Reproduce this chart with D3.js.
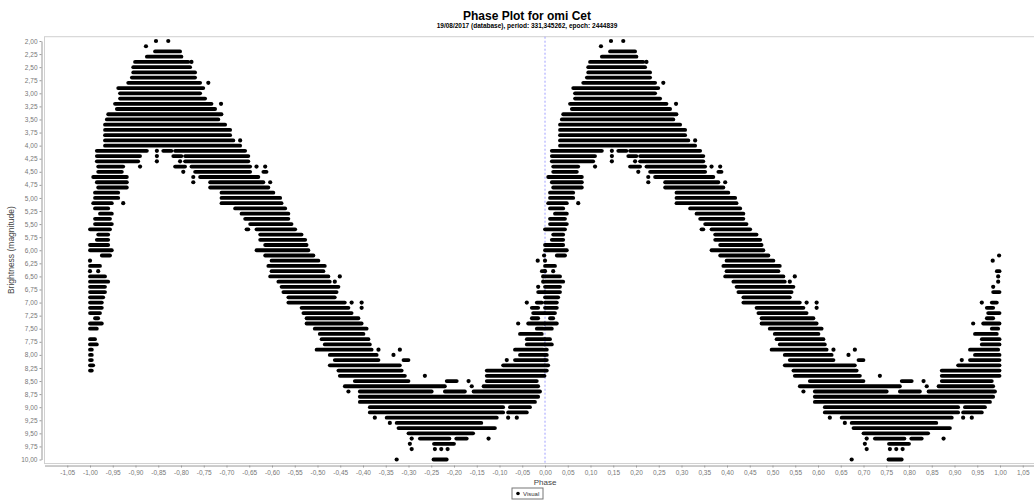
<!DOCTYPE html>
<html><head><meta charset="utf-8">
<script src="https://cdn.jsdelivr.net/npm/d3@7"></script>
<style>body{margin:0;background:#fff}svg{display:block}</style>
</head><body><svg id="c" width="1034" height="503"></svg>
<script>
// ---- data ----
const chartTitle = "Phase Plot for omi Cet";
const chartSubtitle = "19/08/2017 (database), period: 331,345262, epoch: 2444839";
const xTickValues = [-1.05,-1.00,-0.95,-0.90,-0.85,-0.80,-0.75,-0.70,-0.65,-0.60,-0.55,-0.50,-0.45,-0.40,-0.35,-0.30,-0.25,-0.20,-0.15,-0.10,-0.05,0.00,0.05,0.10,0.15,0.20,0.25,0.30,0.35,0.40,0.45,0.50,0.55,0.60,0.65,0.70,0.75,0.80,0.85,0.90,0.95,1.00,1.05];
const yTickValues = [2.00,2.25,2.50,2.75,3.00,3.25,3.50,3.75,4.00,4.25,4.50,4.75,5.00,5.25,5.50,5.75,6.00,6.25,6.50,6.75,7.00,7.25,7.50,7.75,8.00,8.25,8.50,8.75,9.00,9.25,9.50,9.75,10.00];
// one cycle (phase 0..1); each magnitude row lists the phase runs where observations sit
const rowMags = [2.0,2.1,2.2,2.3,2.4,2.5,2.6,2.7,2.8,2.9,3.0,3.1,3.2,3.3,3.4,3.5,3.6,3.7,3.8,3.9,4.0,4.1,4.2,4.3,4.4,4.5,4.6,4.7,4.8,4.9,5.0,5.1,5.2,5.3,5.4,5.5,5.6,5.7,5.8,5.9,6.0,6.1,6.2,6.3,6.4,6.5,6.6,6.7,6.8,6.9,7.0,7.1,7.2,7.3,7.4,7.5,7.6,7.7,7.8,7.9,8.0,8.1,8.2,8.3,8.4,8.5,8.6,8.7,8.8,8.9,9.0,9.1,9.2,9.3,9.4,9.5,9.6,9.7,9.8,10.0];
const rowRuns = [
 [[.145],[.172]],
 [[.123]],
 [[.143,.198]],
 [[.125,.201]],
 [[.099,.216],[.223]],
 [[.095,.220]],
 [[.095,.231]],
 [[.092,.231]],
 [[.084,.242],[.260]],
 [[.062,.249]],
 [[.066,.242]],
 [[.066,.253]],
 [[.055,.267],[.288]],
 [[.059,.275]],
 [[.040,.289]],
 [[.037,.282]],
 [[.033,.297]],
 [[.033,.308]],
 [[.033,.308]],
 [[.033,.315],[.330]],
 [[.033,.330]],
 [[.015,.125],[.147],[.161,.179],[.187,.341]],
 [[.015,.110],[.147],[.183,.201],[.209,.348]],
 [[.015,.106],[.147],[.198],[.209,.348]],
 [[.018,.073],[.110],[.187,.209],[.223,.352],[.366],[.385]],
 [[.018,.070],[.205],[.231,.352],[.381,.388]],
 [[.007,.081],[.227],[.242,.370]],
 [[.015,.081],[.227],[.264,.381],[.396]],
 [[.018,.081],[.264,.392]],
 [[.011,.062],[.289,.403]],
 [[.011,.062],[.289,.418]],
 [[.007,.048],[.073],[.289,.421]],
 [[.011,.040],[.319,.429]],
 [[.022,.048],[.333,.436]],
 [[.011,.044],[.341,.436]],
 [[.011,.048],[.352,.443]],
 [[.000,.044],[.344,.348],[.366,.451]],
 [[.018,.040],[.374,.465]],
 [[.015,.040],[.374,.473]],
 [[.000,.040],[.385,.476]],
 [[.000,.048],[.366,.480]],
 [[.026,.044],[.385,.491],[.998]],
 [[.000],[.399,.502],[.984]],
 [[.000,.022],[.392,.516]],
 [[.000],[.018],[.399,.513],[.993,.999]],
 [[.000,.033],[.396,.524],[.549],[.996]],
 [[.000,.040],[.414,.527],[.538],[.996]],
 [[.000,.033],[.421,.546],[.985]],
 [[.000,.033],[.425,.542],[.985,.999]],
 [[.000,.029],[.436,.538]],
 [[.000,.026],[.436,.560],[.575],[.597],[.960],[.982,.993]],
 [[.000,.026],[.465,.568],[.597],[.971,.985]],
 [[.000,.022],[.469,.575],[.974,.999]],
 [[.011,.018],[.476,.590],[.971,.985]],
 [[.000,.026],[.476,.597],[.941],[.963,.999]],
 [[.000,.015],[.494,.608],[.982,.996]],
 [[.505,.601],[.945,.993]],
 [[.000,.011],[.509,.612],[.960,.999]],
 [[.000,.015],[.516,.615],[.960,.999]],
 [[.000,.004],[.498,.619],[.634],[.681],[.934,.996]],
 [[.000,.004],[.527,.630],[.667],[.945,.999]],
 [[.000,.004],[.538,.634],[.689,.700],[.916],[.934,.999]],
 [[.000,.007],[.527,.681],[.908,.999]],
 [[.000,.004],[.546,.685],[.872,.999]],
 [[.549,.692],[.736],[.872,.999]],
 [[.582,.700],[.784,.806],[.832],[.872,.982]],
 [[.560,.780],[.839],[.865,.985]],
 [[.568],[.593,.751],[.780,.824],[.843,.989]],
 [[.593,.985]],
 [[.593,.978]],
 [[.615,.908],[.923,.967]],
 [[.615,.908],[.919,.960]],
 [[.626],[.652,.894],[.919],[.938]],
 [[.659],[.674,.860]],
 [[.678,.890]],
 [[.700,.842]],
 [[.707],[.725,.790],[.805,.828],[.876]],
 [[.703],[.756,.800]],
 [[.707],[.758],[.772],[.786]],
 [[.674],[.755,.784]]
];
const legendLabels = ["Visual"];

// ---- layout ----
const svg = d3.select("#c");
const x = d3.scaleLinear().domain([-1.1, 1.1]).range([44.5, 1045.5]);
const y = d3.scaleLinear().domain([2, 10]).range([41, 459.5]);
const plotTop = y(1.918), plotBottom = y(10.077), plotLeft = x(-1.1), plotRight = x(1.1);
const fmt = v => v.toFixed(2).replace(".", ",");
const font = "'Liberation Sans', Arial, sans-serif";

// title
svg.append("text").attr("x", 527).attr("y", 19.5).attr("text-anchor", "middle")
  .attr("font-family", font).attr("font-weight", "bold").attr("font-size", 12).attr("fill", "#000").text(chartTitle);
svg.append("text").attr("x", 527).attr("y", 28).attr("text-anchor", "middle")
  .attr("font-family", font).attr("font-weight", "bold").attr("font-size", 6.5).attr("fill", "#000").text(chartSubtitle);

// plot outline
svg.append("rect").attr("x", plotLeft).attr("y", plotTop).attr("width", plotRight - plotLeft).attr("height", plotBottom - plotTop)
  .attr("fill", "#fff").attr("stroke", "#d0d0d0").attr("stroke-width", 1);

// zero marker
svg.append("line").attr("x1", x(0)).attr("x2", x(0)).attr("y1", plotTop).attr("y2", plotBottom)
  .attr("stroke", "#a0a0ff").attr("stroke-width", 1).attr("stroke-dasharray", "2,2");

// axes
const xAxis = d3.axisBottom(x).tickValues(xTickValues).tickFormat(fmt).tickSizeInner(2).tickSizeOuter(0).tickPadding(3);
const gx = svg.append("g").attr("transform", `translate(0,${plotBottom + 2})`).call(xAxis);
gx.select(".domain").attr("stroke", "#999");
gx.selectAll(".tick line").attr("stroke", "#999");
gx.selectAll(".tick text").attr("font-family", font).attr("font-size", 6.5).attr("fill", "#777");

const yAxis = d3.axisLeft(y).tickValues(yTickValues).tickFormat(fmt).tickSizeInner(2).tickSizeOuter(0).tickPadding(2);
const gy = svg.append("g").attr("transform", `translate(${plotLeft - 3},0)`).call(yAxis);
gy.select(".domain").attr("stroke", "#999");
gy.selectAll(".tick line").attr("stroke", "#999");
gy.selectAll(".tick text").attr("font-family", font).attr("font-size", 6.5).attr("fill", "#777");

svg.append("text").attr("x", x(0)).attr("y", 484.5).attr("text-anchor", "middle")
  .attr("font-family", font).attr("font-size", 8).attr("fill", "#444").text("Phase");
svg.append("text").attr("transform", `translate(14,${(plotTop + plotBottom) / 2}) rotate(-90)`).attr("text-anchor", "middle")
  .attr("font-family", font).attr("font-size", 8.5).attr("fill", "#444").text("Brightness (magnitude)");

// data marks: each observation run drawn at phase-1 and phase
const segs = [], dots = [];
rowMags.forEach((m, i) => {
  rowRuns[i].forEach(r => {
    [-1, 0].forEach(off => {
      if (r.length === 1) dots.push({p: r[0] + off, m});
      else segs.push({a: r[0] + off, b: r[1] + off, m});
    });
  });
});
const g = svg.append("g");
g.selectAll("line.run").data(segs).join("line").attr("class", "run")
  .attr("x1", d => x(d.a)).attr("x2", d => x(d.b)).attr("y1", d => y(d.m)).attr("y2", d => y(d.m))
  .attr("stroke", "#000").attr("stroke-width", 3.8).attr("stroke-linecap", "round");
g.selectAll("circle.obs").data(dots).join("circle").attr("class", "obs")
  .attr("cx", d => x(d.p)).attr("cy", d => y(d.m)).attr("r", 2.1).attr("fill", "#000");

// legend
const lg = svg.append("g").attr("transform", "translate(512,488)");
lg.append("rect").attr("x", 0).attr("y", 0).attr("width", 31).attr("height", 11).attr("fill", "#fff").attr("stroke", "#777").attr("stroke-width", 1);
lg.append("circle").attr("cx", 6).attr("cy", 5.5).attr("r", 1.8).attr("fill", "#000");
lg.append("text").attr("x", 11).attr("y", 8).attr("font-family", font).attr("font-size", 6).attr("fill", "#333").text(legendLabels[0]);
</script>
</body></html>
